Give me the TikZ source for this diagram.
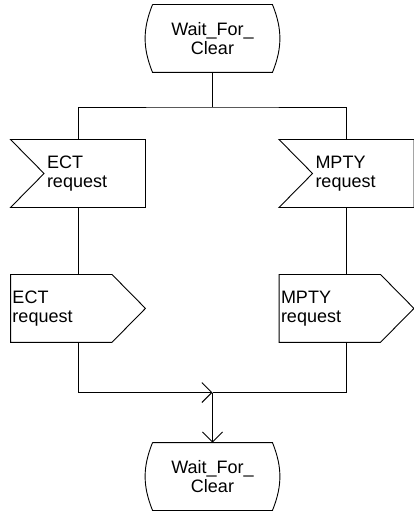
\documentclass[tikz,border=0pt]{standalone}
\usepackage{fontspec}
\setmainfont{Liberation Sans}
\usetikzlibrary{positioning,arrows.meta}

\begin{document}
\begin{tikzpicture}[x=1pt, y=-1pt, line width=0.9pt,
    every node/.style={font=\fontsize{18}{19}\selectfont, inner sep=0pt},
    state/.style={minimum width=119pt, minimum height=67pt, align=center},
    sigin/.style={minimum width=134pt, minimum height=67pt, text width=62pt, align=left},
    sigout/.style={minimum width=134pt, minimum height=67pt, text width=131pt, align=left},
    flow/.style={-{Straight Barb[length=10pt, width=20pt]}}]
    \useasboundingbox (0,0) rectangle (414,513);

    % States
    \node[state] (waita) at (212.5,38.5) {Wait\_For\_\\Clear};
    \node[state] (waitb) at (212.5,476.5) {Wait\_For\_\\Clear};
    \foreach \n in {waita,waitb}
        \draw (\n.north west) -- (\n.north east) to[bend left=22] (\n.south east)
            -- (\n.south west) to[bend left=22] (\n.north west);

    % Input signals
    \node[sigin] (ectin) at (78,173.5) {ECT\\request};
    \node[sigin] (mptyin) at (346.5,173.5) {MPTY\\request};
    \foreach \n in {ectin,mptyin}
        \draw (\n.north west) -- (\n.north east) -- (\n.south east)
            -- (\n.south west) -- ([xshift=33.5pt]\n.west) -- cycle;

    % Output signals
    \node[sigout, below=67pt of ectin] (ectout) {ECT\\request};
    \node[sigout, below=67pt of mptyin] (mptyout) {MPTY\\request};
    \foreach \n in {ectout,mptyout}
        \draw (\n.north west) -- ([xshift=-33.5pt]\n.north east) -- (\n.east)
            -- ([xshift=-33.5pt]\n.south east) -- (\n.south west) -- cycle;

    % Flow lines
    \coordinate (split) at (212.5,107);
    \coordinate (merge) at (212.5,392.5);
    \draw (waita.south) -- (split);
    \draw (ectin.north) |- (split) -| (mptyin.north);
    \draw (ectin.south) -- (ectout.north);
    \draw (mptyin.south) -- (mptyout.north);
    \draw[flow] (ectout.south) |- (merge);
    \draw (mptyout.south) |- (merge);
    \draw[flow] (merge) -- (waitb.north);
\end{tikzpicture}
\end{document}
